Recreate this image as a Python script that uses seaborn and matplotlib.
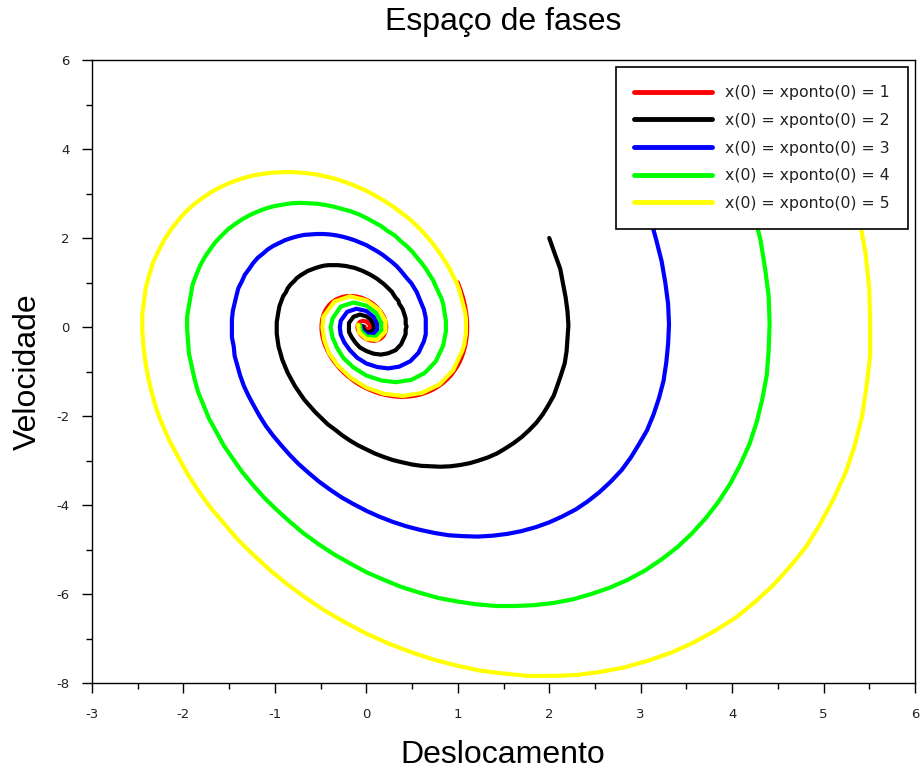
import matplotlib
matplotlib.use("Agg")
import matplotlib.pyplot as plt
import seaborn as sns
from matplotlib.ticker import MultipleLocator

# Trajetórias: deslocamento (x) e velocidade (v)
# x(0) = xponto(0) = 1
x_1 = [1.000, 1.032, 1.058, 1.077, 1.091, 1.100, 1.103, 1.101, 1.094, 1.083,
       1.067, 1.047, 1.023, 0.995, 0.963, 0.929, 0.891, 0.850, 0.807, 0.762,
       0.715, 0.666, 0.616, 0.565, 0.513, 0.460, 0.407, 0.354, 0.301, 0.249,
       0.197, 0.146, 0.096, 0.047, 0.000, -0.046, -0.090, -0.132, -0.172, -0.210,
       -0.246, -0.280, -0.311, -0.339, -0.366, -0.389, -0.411, -0.429, -0.445, -0.459,
       -0.470, -0.479, -0.485, -0.489, -0.490, -0.489, -0.486, -0.481, -0.474, -0.465,
       -0.454, -0.442, -0.428, -0.413, -0.396, -0.378, -0.359, -0.339, -0.318, -0.296,
       -0.274, -0.251, -0.228, -0.204, -0.181, -0.157, -0.134, -0.111, -0.088, -0.065,
       -0.043, -0.021, 0.000, 0.020, 0.040, 0.059, 0.077, 0.093, 0.109, 0.124,
       0.138, 0.151, 0.162, 0.173, 0.182, 0.191, 0.198, 0.204, 0.209, 0.213,
       0.215, 0.217, 0.218, 0.217, 0.216, 0.214, 0.211,
       0.190, 0.159, 0.122, 0.080, 0.039, 0.000, -0.034, -0.061, -0.081, -0.093,
       -0.097, -0.094, -0.071, -0.036, 0.000, 0.027, 0.041, 0.042, 0.024, 0.000,
       -0.016, -0.018]
v_1 = [1.000, 0.825, 0.654, 0.490, 0.329, 0.173, 0.021, -0.127, -0.268, -0.404,
       -0.534, -0.656, -0.772, -0.881, -0.981, -1.075, -1.160, -1.237, -1.306, -1.367,
       -1.420, -1.464, -1.501, -1.529, -1.550, -1.563, -1.569, -1.567, -1.558, -1.543,
       -1.522, -1.494, -1.460, -1.421, -1.377, -1.328, -1.275, -1.218, -1.157, -1.093,
       -1.027, -0.957, -0.886, -0.814, -0.740, -0.665, -0.590, -0.514, -0.439, -0.364,
       -0.290, -0.218, -0.146, -0.077, -0.009, 0.056, 0.119, 0.180, 0.237, 0.292,
       0.343, 0.391, 0.436, 0.477, 0.515, 0.550, 0.580, 0.607, 0.631, 0.650,
       0.667, 0.680, 0.689, 0.694, 0.697, 0.696, 0.692, 0.686, 0.676, 0.664,
       0.649, 0.631, 0.612, 0.590, 0.566, 0.541, 0.514, 0.486, 0.456, 0.426,
       0.394, 0.362, 0.329, 0.295, 0.262, 0.229, 0.195, 0.162, 0.129, 0.097,
       0.065, 0.034, 0.004, -0.025, -0.053, -0.080, -0.105,
       -0.194, -0.258, -0.296, -0.310, -0.300, -0.272, -0.228, -0.175, -0.116, -0.057,
       -0.002, 0.047, 0.115, 0.138, 0.121, 0.078, 0.026, -0.021, -0.059, -0.054,
       -0.023, 0.009]

# x(0) = xponto(0) = 2
x_2 = [2.00, 2.06, 2.12, 2.15, 2.18, 2.20, 2.21, 2.20, 2.19, 2.17,
       2.13, 2.09, 2.05, 1.99, 1.93, 1.86, 1.78, 1.70, 1.61, 1.52,
       1.43, 1.33, 1.23, 1.13, 1.03, 0.92, 0.81, 0.71, 0.60, 0.50,
       0.39, 0.29, 0.19, 0.09, 0.00, -0.09, -0.18, -0.26, -0.34, -0.42,
       -0.49, -0.56, -0.62, -0.68, -0.73, -0.78, -0.82, -0.86, -0.89, -0.92,
       -0.94, -0.96, -0.97, -0.98, -0.98, -0.98, -0.97, -0.96, -0.95, -0.93,
       -0.91, -0.88, -0.86, -0.83, -0.79, -0.76, -0.72, -0.68, -0.64, -0.59,
       -0.55, -0.50, -0.46, -0.41, -0.36, -0.31, -0.27, -0.22, -0.18, -0.13,
       -0.09, -0.04, 0.00, 0.04, 0.08, 0.12, 0.15, 0.19, 0.22, 0.25,
       0.28, 0.30, 0.32, 0.35, 0.36, 0.38, 0.40, 0.41, 0.42, 0.43,
       0.43, 0.43, 0.44, 0.43, 0.43, 0.43, 0.42,
       0.38, 0.32, 0.24, 0.16, 0.08, 0.00, -0.07, -0.12, -0.16, -0.19,
       -0.19, -0.19, -0.14, -0.07, 0.00, 0.05, 0.08, 0.08, 0.05, 0.00,
       -0.03, -0.04]
v_2 = [2.00, 1.65, 1.31, 0.98, 0.66, 0.35, 0.04, -0.25, -0.54, -0.81,
       -1.07, -1.31, -1.54, -1.76, -1.96, -2.15, -2.32, -2.47, -2.61, -2.73,
       -2.84, -2.93, -3.00, -3.06, -3.10, -3.13, -3.14, -3.13, -3.12, -3.09,
       -3.04, -2.99, -2.92, -2.84, -2.75, -2.66, -2.55, -2.44, -2.31, -2.19,
       -2.05, -1.91, -1.77, -1.63, -1.48, -1.33, -1.18, -1.03, -0.88, -0.73,
       -0.58, -0.44, -0.29, -0.15, -0.02, 0.11, 0.24, 0.36, 0.47, 0.58,
       0.69, 0.78, 0.87, 0.95, 1.03, 1.10, 1.16, 1.21, 1.26, 1.30,
       1.33, 1.36, 1.38, 1.39, 1.39, 1.39, 1.38, 1.37, 1.35, 1.33,
       1.30, 1.26, 1.22, 1.18, 1.13, 1.08, 1.03, 0.97, 0.91, 0.85,
       0.79, 0.72, 0.66, 0.59, 0.52, 0.46, 0.39, 0.32, 0.26, 0.19,
       0.13, 0.07, 0.01, -0.05, -0.11, -0.16, -0.21,
       -0.39, -0.52, -0.59, -0.62, -0.60, -0.54, -0.46, -0.35, -0.23, -0.11,
       0.00, 0.09, 0.23, 0.28, 0.24, 0.16, 0.05, -0.04, -0.12, -0.11,
       -0.05, 0.02]

# x(0) = xponto(0) = 3
x_3 = [3.00, 3.10, 3.17, 3.23, 3.27, 3.30, 3.31, 3.30, 3.28, 3.25,
       3.20, 3.14, 3.07, 2.98, 2.89, 2.79, 2.67, 2.55, 2.42, 2.29,
       2.14, 2.00, 1.85, 1.69, 1.54, 1.38, 1.22, 1.06, 0.90, 0.75,
       0.59, 0.44, 0.29, 0.14, 0.00, -0.14, -0.27, -0.40, -0.52, -0.63,
       -0.74, -0.84, -0.93, -1.02, -1.10, -1.17, -1.23, -1.29, -1.34, -1.38,
       -1.41, -1.44, -1.45, -1.47, -1.47, -1.47, -1.46, -1.44, -1.42, -1.40,
       -1.36, -1.33, -1.28, -1.24, -1.19, -1.13, -1.08, -1.02, -0.95, -0.89,
       -0.82, -0.75, -0.68, -0.61, -0.54, -0.47, -0.40, -0.33, -0.26, -0.19,
       -0.13, -0.06, 0.00, 0.06, 0.12, 0.18, 0.23, 0.28, 0.33, 0.37,
       0.41, 0.45, 0.49, 0.52, 0.55, 0.57, 0.59, 0.61, 0.63, 0.64,
       0.65, 0.65, 0.65, 0.65, 0.65, 0.64, 0.63,
       0.57, 0.48, 0.36, 0.24, 0.12, 0.00, -0.10, -0.18, -0.24, -0.28,
       -0.29, -0.28, -0.21, -0.11, 0.00, 0.08, 0.12, 0.12, 0.07, 0.00,
       -0.05, -0.06]
v_3 = [3.00, 2.48, 1.96, 1.47, 0.99, 0.52, 0.06, -0.38, -0.80, -1.21,
       -1.60, -1.97, -2.32, -2.64, -2.94, -3.22, -3.48, -3.71, -3.92, -4.10,
       -4.26, -4.39, -4.50, -4.59, -4.65, -4.69, -4.71, -4.70, -4.68, -4.63,
       -4.56, -4.48, -4.38, -4.26, -4.13, -3.98, -3.83, -3.65, -3.47, -3.28,
       -3.08, -2.87, -2.66, -2.44, -2.22, -1.99, -1.77, -1.54, -1.32, -1.09,
       -0.87, -0.65, -0.44, -0.23, -0.03, 0.17, 0.36, 0.54, 0.71, 0.87,
       1.03, 1.17, 1.31, 1.43, 1.55, 1.65, 1.74, 1.82, 1.89, 1.95,
       2.00, 2.04, 2.07, 2.08, 2.09, 2.09, 2.08, 2.06, 2.03, 1.99,
       1.95, 1.89, 1.84, 1.77, 1.70, 1.62, 1.54, 1.46, 1.37, 1.28,
       1.18, 1.08, 0.99, 0.89, 0.79, 0.69, 0.59, 0.49, 0.39, 0.29,
       0.20, 0.10, 0.01, -0.08, -0.16, -0.24, -0.32,
       -0.58, -0.77, -0.89, -0.93, -0.90, -0.82, -0.69, -0.52, -0.35, -0.17,
       -0.01, 0.14, 0.34, 0.41, 0.36, 0.23, 0.08, -0.06, -0.18, -0.16,
       -0.07, 0.03]

# x(0) = xponto(0) = 4
x_4 = [4.00, 4.13, 4.23, 4.31, 4.36, 4.40, 4.41, 4.40, 4.38, 4.33,
       4.27, 4.19, 4.09, 3.98, 3.85, 3.71, 3.56, 3.40, 3.23, 3.05,
       2.86, 2.66, 2.46, 2.26, 2.05, 1.84, 1.63, 1.42, 1.20, 1.00,
       0.79, 0.58, 0.38, 0.19, 0.00, -0.18, -0.36, -0.53, -0.69, -0.84,
       -0.98, -1.12, -1.24, -1.36, -1.46, -1.56, -1.64, -1.72, -1.78, -1.84,
       -1.88, -1.91, -1.94, -1.95, -1.96, -1.96, -1.94, -1.92, -1.90, -1.86,
       -1.82, -1.77, -1.71, -1.65, -1.58, -1.51, -1.43, -1.35, -1.27, -1.18,
       -1.09, -1.00, -0.91, -0.82, -0.72, -0.63, -0.54, -0.44, -0.35, -0.26,
       -0.17, -0.08, 0.00, 0.08, 0.16, 0.23, 0.31, 0.37, 0.44, 0.50,
       0.55, 0.60, 0.65, 0.69, 0.73, 0.76, 0.79, 0.82, 0.84, 0.85,
       0.86, 0.87, 0.87, 0.87, 0.86, 0.85, 0.84,
       0.76, 0.64, 0.49, 0.32, 0.16, 0.00, -0.14, -0.25, -0.32, -0.37,
       -0.39, -0.37, -0.28, -0.14, 0.00, 0.11, 0.16, 0.17, 0.10, 0.00,
       -0.06, -0.07]
v_4 = [4.00, 3.30, 2.61, 1.96, 1.32, 0.69, 0.08, -0.51, -1.07, -1.62,
       -2.13, -2.63, -3.09, -3.52, -3.93, -4.30, -4.64, -4.95, -5.22, -5.47,
       -5.68, -5.86, -6.00, -6.12, -6.20, -6.25, -6.27, -6.27, -6.23, -6.17,
       -6.09, -5.97, -5.84, -5.68, -5.51, -5.31, -5.10, -4.87, -4.63, -4.37,
       -4.11, -3.83, -3.55, -3.25, -2.96, -2.66, -2.36, -2.06, -1.76, -1.46,
       -1.16, -0.87, -0.59, -0.31, -0.04, 0.22, 0.48, 0.72, 0.95, 1.17,
       1.37, 1.56, 1.74, 1.91, 2.06, 2.20, 2.32, 2.43, 2.52, 2.60,
       2.67, 2.72, 2.75, 2.78, 2.79, 2.78, 2.77, 2.74, 2.70, 2.65,
       2.60, 2.53, 2.45, 2.36, 2.27, 2.16, 2.06, 1.94, 1.82, 1.70,
       1.57, 1.45, 1.31, 1.18, 1.05, 0.91, 0.78, 0.65, 0.52, 0.39,
       0.26, 0.14, 0.02, -0.10, -0.21, -0.32, -0.42,
       -0.77, -1.03, -1.19, -1.24, -1.20, -1.09, -0.91, -0.70, -0.47, -0.23,
       -0.01, 0.19, 0.46, 0.55, 0.48, 0.31, 0.10, -0.08, -0.23, -0.21,
       -0.09, 0.04]

# x(0) = xponto(0) = 5
x_5 = [5.00, 5.16, 5.29, 5.39, 5.46, 5.50, 5.51, 5.51, 5.47, 5.42,
       5.34, 5.24, 5.11, 4.97, 4.82, 4.64, 4.45, 4.25, 4.04, 3.81,
       3.57, 3.33, 3.08, 2.82, 2.56, 2.30, 2.04, 1.77, 1.51, 1.24,
       0.99, 0.73, 0.48, 0.24, 0.00, -0.23, -0.45, -0.66, -0.86, -1.05,
       -1.23, -1.40, -1.55, -1.70, -1.83, -1.95, -2.05, -2.15, -2.23, -2.30,
       -2.35, -2.39, -2.42, -2.44, -2.45, -2.45, -2.43, -2.41, -2.37, -2.33,
       -2.27, -2.21, -2.14, -2.06, -1.98, -1.89, -1.79, -1.69, -1.59, -1.48,
       -1.37, -1.25, -1.14, -1.02, -0.90, -0.79, -0.67, -0.55, -0.44, -0.32,
       -0.21, -0.11, 0.00, 0.10, 0.20, 0.29, 0.38, 0.47, 0.55, 0.62,
       0.69, 0.75, 0.81, 0.86, 0.91, 0.95, 0.99, 1.02, 1.04, 1.06,
       1.08, 1.09, 1.09, 1.09, 1.08, 1.07, 1.05,
       0.95, 0.80, 0.61, 0.40, 0.19, 0.00, -0.17, -0.31, -0.41, -0.46,
       -0.48, -0.47, -0.35, -0.18, 0.00, 0.14, 0.21, 0.21, 0.12, 0.00,
       -0.08, -0.09]
v_5 = [5.00, 4.13, 3.27, 2.45, 1.65, 0.86, 0.10, -0.63, -1.34, -2.02,
       -2.67, -3.28, -3.86, -4.40, -4.91, -5.37, -5.80, -6.18, -6.53, -6.83,
       -7.10, -7.32, -7.50, -7.65, -7.75, -7.82, -7.84, -7.84, -7.79, -7.72,
       -7.61, -7.47, -7.30, -7.11, -6.89, -6.64, -6.38, -6.09, -5.79, -5.47,
       -5.13, -4.79, -4.43, -4.07, -3.70, -3.32, -2.95, -2.57, -2.20, -1.82,
       -1.45, -1.09, -0.73, -0.38, -0.05, 0.28, 0.60, 0.90, 1.19, 1.46,
       1.72, 1.96, 2.18, 2.39, 2.58, 2.75, 2.90, 3.04, 3.15, 3.25,
       3.33, 3.40, 3.44, 3.47, 3.48, 3.48, 3.46, 3.43, 3.38, 3.32,
       3.24, 3.16, 3.06, 2.95, 2.83, 2.71, 2.57, 2.43, 2.28, 2.13,
       1.97, 1.81, 1.64, 1.48, 1.31, 1.14, 0.98, 0.81, 0.65, 0.48,
       0.33, 0.17, 0.02, -0.13, -0.26, -0.40, -0.53,
       -0.97, -1.29, -1.48, -1.55, -1.50, -1.36, -1.14, -0.87, -0.58, -0.29,
       -0.01, 0.23, 0.57, 0.69, 0.60, 0.39, 0.13, -0.10, -0.29, -0.27,
       -0.12, 0.05]

series = [
    ("x(0) = xponto(0) = 1", x_1, v_1, "#ff0000"),
    ("x(0) = xponto(0) = 2", x_2, v_2, "#000000"),
    ("x(0) = xponto(0) = 3", x_3, v_3, "#0000ff"),
    ("x(0) = xponto(0) = 4", x_4, v_4, "#00ff00"),
    ("x(0) = xponto(0) = 5", x_5, v_5, "#ffff00"),
]

sns.set_theme(style="ticks")
plt.rcParams["font.family"] = ["Liberation Sans", "DejaVu Sans"]
plt.rcParams["axes.unicode_minus"] = False

fig = plt.figure(figsize=(9.22, 7.75), dpi=100)
ax = fig.add_axes([92 / 922, 1 - 683 / 775, 823 / 922, 623 / 775])

for label, xs, vs, color in series:
    sns.lineplot(x=xs, y=vs, sort=False, estimator=None, color=color,
                 linewidth=3, label=label, ax=ax)

ax.set_xlim(-3, 6)
ax.set_ylim(-8, 6)
ax.xaxis.set_major_locator(MultipleLocator(1))
ax.xaxis.set_minor_locator(MultipleLocator(0.5))
ax.yaxis.set_major_locator(MultipleLocator(2))
ax.yaxis.set_minor_locator(MultipleLocator(1))
ax.tick_params(which="both", direction="out", colors="black", width=1,
               top=False, right=False)
ax.tick_params(which="major", length=7)
ax.tick_params(which="minor", length=4)
ax.tick_params(axis="x", which="major", pad=11)
ax.tick_params(axis="y", which="major", pad=9)
for lab in ax.get_xticklabels() + ax.get_yticklabels():
    lab.set_family("DejaVu Sans")
    lab.set_fontsize(9.5)
    lab.set_color("#222222")
for sp in ax.spines.values():
    sp.set_color("black")
    sp.set_linewidth(1.0)
ax.set_xlabel("")
ax.set_ylabel("")

leg = ax.legend(loc="upper right", bbox_to_anchor=(1, 1), borderaxespad=0.45,
                frameon=True, fancybox=False, edgecolor="black", framealpha=1,
                handlelength=5.0, handletextpad=0.83,
                labelspacing=0.81, borderpad=1.15,
                prop={"family": "DejaVu Sans", "size": 11.3})
leg.get_frame().set_linewidth(1.2)
leg.set_zorder(10)
for line in leg.get_lines():
    line.set_linewidth(3.5)
for txt in leg.get_texts():
    txt.set_color("#222222")

fig.text(503 / 922, 1 - 22 / 775, "Espaço de fases", ha="center", va="center",
         fontsize=23, color="black")
fig.text(503 / 922, 1 - 755 / 775, "Deslocamento", ha="center", va="center",
         fontsize=23, color="black")
fig.text(28 / 922, 1 - 372 / 775, "Velocidade", ha="center", va="center",
         rotation=90, fontsize=23, color="black")

fig.savefig("out.png", dpi=100)
